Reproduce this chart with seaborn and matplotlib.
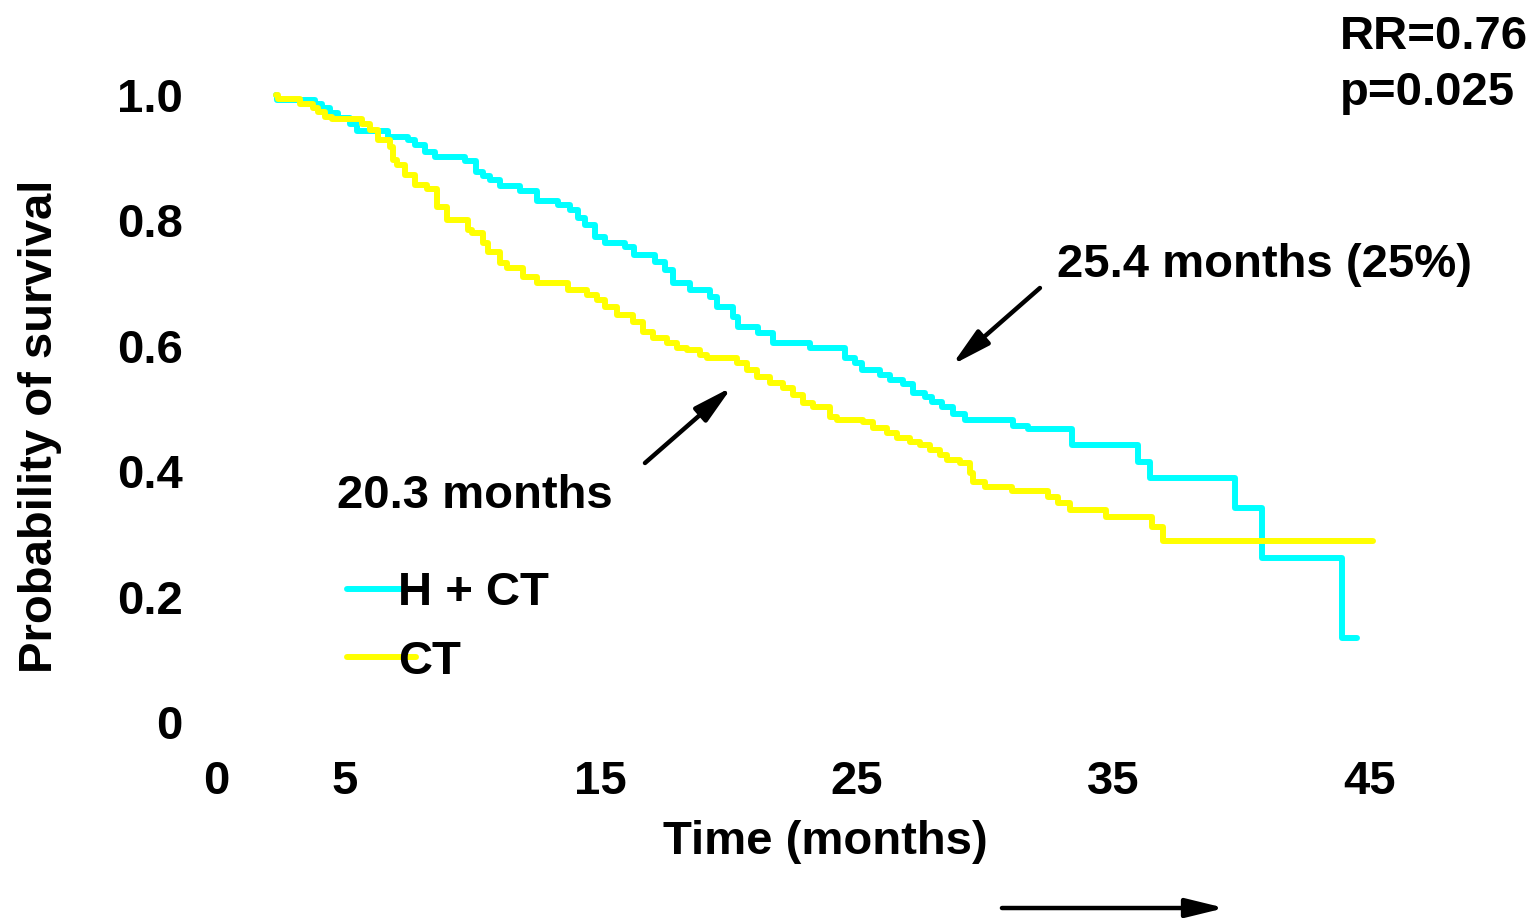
import numpy as np
import pandas as pd
import matplotlib
matplotlib.use("Agg")
import matplotlib.pyplot as plt
import seaborn as sns

# ---------------- data ----------------
groups = ["H + CT", "CT"]
colors = ["#00FFFF", "#FFFF00"]

hct_time = [2.34, 2.36, 3.86, 4.14, 4.45, 4.76, 5.23, 5.50, 6.71, 7.49, 7.76, 8.15, 8.54,
            9.72, 10.14, 10.42, 10.69, 11.08, 11.86, 12.52, 13.34, 13.81, 14.12, 14.40,
            14.79, 15.18, 15.96, 16.30, 17.13, 17.52, 17.83, 18.49, 19.27, 19.55, 20.17,
            20.37, 21.15, 21.73, 23.18, 24.54, 24.93, 25.20, 25.91, 26.30, 26.80, 27.19,
            27.66, 27.94, 28.33, 28.76, 29.22, 31.10, 31.68, 33.40, 35.97, 36.44, 39.76,
            40.81, 43.93, 44.52]
hct_surv = [1.000, 0.992, 0.986, 0.979, 0.971, 0.963, 0.954, 0.943, 0.933, 0.928, 0.920,
            0.909, 0.901, 0.895, 0.877, 0.871, 0.864, 0.855, 0.847, 0.831, 0.825, 0.817,
            0.804, 0.793, 0.774, 0.764, 0.757, 0.745, 0.734, 0.721, 0.700, 0.689, 0.678,
            0.662, 0.646, 0.630, 0.620, 0.604, 0.597, 0.581, 0.573, 0.561, 0.553, 0.545,
            0.539, 0.525, 0.518, 0.510, 0.502, 0.491, 0.482, 0.472, 0.467, 0.442, 0.415,
            0.389, 0.341, 0.262, 0.134, 0.134]

ct_time = [2.34, 2.40, 3.28, 3.78, 3.98, 4.25, 4.53, 5.70, 6.01, 6.32, 6.79, 6.91, 7.06,
           7.37, 7.76, 8.23, 8.62, 9.01, 9.83, 9.99, 10.42, 10.61, 11.08, 11.35, 11.98,
           12.52, 13.73, 14.48, 14.87, 15.18, 15.65, 16.27, 16.66, 17.05, 17.60, 17.99,
           18.38, 18.88, 19.16, 20.33, 20.72, 21.11, 21.62, 22.12, 22.51, 22.90, 23.29,
           23.96, 24.23, 25.24, 25.63, 26.18, 26.57, 27.08, 27.47, 27.86, 28.25, 28.52,
           29.03, 29.42, 29.54, 30.00, 31.06, 32.46, 32.85, 33.32, 34.73, 36.52, 36.95,
           45.14]
ct_surv = [1.000, 0.994, 0.986, 0.979, 0.973, 0.965, 0.962, 0.954, 0.944, 0.928, 0.917,
           0.896, 0.888, 0.872, 0.856, 0.850, 0.821, 0.801, 0.785, 0.780, 0.764, 0.750,
           0.732, 0.724, 0.710, 0.700, 0.689, 0.681, 0.673, 0.662, 0.649, 0.638, 0.622,
           0.612, 0.604, 0.596, 0.593, 0.585, 0.581, 0.573, 0.561, 0.550, 0.541, 0.533,
           0.522, 0.509, 0.502, 0.486, 0.482, 0.478, 0.469, 0.461, 0.453, 0.447, 0.442,
           0.434, 0.426, 0.418, 0.413, 0.397, 0.383, 0.375, 0.368, 0.359, 0.349, 0.338,
           0.327, 0.311, 0.289, 0.289]

x_ticks = [0, 5, 15, 25, 35, 45]
y_ticks = [0, 0.2, 0.4, 0.6, 0.8, 1.0]
y_tick_labels = ["0", "0.2", "0.4", "0.6", "0.8", "1.0"]

# ---------------- build frame ----------------
df = pd.concat([
    pd.DataFrame({"time": hct_time, "surv": hct_surv, "group": groups[0]}),
    pd.DataFrame({"time": ct_time, "surv": ct_surv, "group": groups[1]}),
], ignore_index=True)

sns.set_theme(style="white")
plt.rcParams["font.family"] = ["Liberation Sans", "DejaVu Sans"]
plt.rcParams["font.weight"] = "bold"
plt.rcParams["text.color"] = "black"
plt.rcParams["axes.labelcolor"] = "black"
plt.rcParams["xtick.color"] = "black"
plt.rcParams["ytick.color"] = "black"
FS = 34

fig = plt.figure(figsize=(15.32, 9.18), dpi=100)
ax = fig.add_axes([0.141, 0.2135, 0.7698, 0.6967])

sns.lineplot(data=df, x="time", y="surv", hue="group", hue_order=groups,
             palette=dict(zip(groups, colors)), drawstyle="steps-post",
             estimator=None, sort=False, linewidth=4.3, ax=ax, legend=True)

ax.set_xlim(0, 46)
ax.set_ylim(0, 1.02)
for s in ax.spines.values():
    s.set_visible(False)
ax.set_xticks(x_ticks)
ax.set_xticklabels([str(t) for t in x_ticks], fontsize=FS, fontweight="bold", color="black")
ax.set_yticks(y_ticks)
ax.set_yticklabels(y_tick_labels, fontsize=FS, fontweight="bold", color="black")
ax.tick_params(axis="both", length=0)
ax.tick_params(axis="y", pad=24)
ax.tick_params(axis="x", pad=27)
ax.grid(False)

ax.set_xlabel("Time (months)", fontsize=FS, fontweight="bold", color="black")
ax.xaxis.set_label_coords(0.517, -0.153)
ax.set_ylabel("Probability of survival", fontsize=FS, fontweight="bold", color="black")
ax.yaxis.set_label_coords(-0.131, 0.4625)

# legend
handles, labels = ax.get_legend_handles_labels()
leg = ax.legend(handles, labels, loc="upper left", frameon=False,
                bbox_to_anchor=(0.111, 0.236), borderpad=0, borderaxespad=0,
                handlelength=1.47, handletextpad=-0.38, labelspacing=0.52,
                prop={"size": FS, "weight": "bold"})
for line in leg.get_lines():
    line.set_linewidth(4.3)
for t in leg.get_texts():
    t.set_color("black")

# annotations
def dx(px):
    return (px - 216) / 25.64

def dy(py):
    return (722 - py) / 627

ax.text(dx(1340), dy(49), "RR=0.76", fontsize=FS, fontweight="bold", color="black",
        ha="left", va="baseline", clip_on=False)
ax.text(dx(1340), dy(105), "p=0.025", fontsize=FS, fontweight="bold", color="black",
        ha="left", va="baseline", clip_on=False)
ax.text(dx(1057), dy(277), "25.4 months (25%)", fontsize=FS, fontweight="bold", color="black",
        ha="left", va="baseline")
ax.text(dx(337), dy(508), "20.3 months", fontsize=FS, fontweight="bold", color="black",
        ha="left", va="baseline")

arrow_kw = dict(arrowstyle="-|>,head_length=0.9,head_width=0.22", lw=3.2, color="black",
                shrinkA=0, shrinkB=0, mutation_scale=26)
ax.annotate("", xy=(dx(952), dy(365)), xytext=(dx(1040), dy(288)), arrowprops=arrow_kw)
ax.annotate("", xy=(dx(732), dy(387)), xytext=(dx(645), dy(463)), arrowprops=arrow_kw)
ax.annotate("", xy=(dx(1225), dy(908)), xytext=(dx(1002), dy(908)), arrowprops=arrow_kw,
            annotation_clip=False)

fig.savefig("out.png", dpi=100)
